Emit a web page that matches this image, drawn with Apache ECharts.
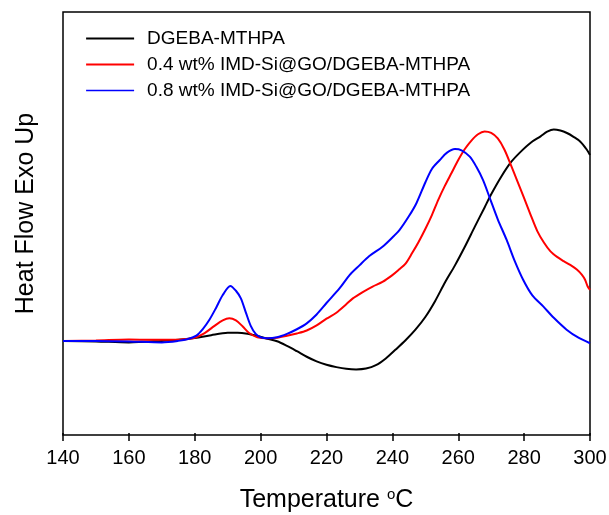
<!DOCTYPE html>
<html>
<head>
<meta charset="utf-8">
<script src="https://cdn.jsdelivr.net/npm/echarts@6/dist/echarts.min.js"></script>
<style>
  html, body { margin: 0; padding: 0; background: #fff; }
  #chart { width: 609px; height: 515px; }
</style>
</head>
<body>
<div id="chart"></div>
<script>
// DSC curves: heat flow (arbitrary units, exo up) versus temperature (°C)
const seriesNames = [
  'DGEBA-MTHPA',
  '0.4 wt% IMD-Si@GO/DGEBA-MTHPA',
  '0.8 wt% IMD-Si@GO/DGEBA-MTHPA'
];

const xTicks = [140, 160, 180, 200, 220, 240, 260, 280, 300];

// neat resin
const neatT = [140, 150, 160, 170, 175, 180, 185, 190, 193, 196, 199, 202, 205, 208, 211, 214, 217, 220, 223, 226, 229, 232, 235, 238, 241, 244, 247, 250, 253, 256, 259, 262, 265, 268, 270, 273, 276, 279, 282, 285, 287, 289, 291, 293, 295, 297, 299, 300];
const neatV = [21.75, 21.63, 21.39, 21.75, 22.0, 22.45, 23.1, 23.65, 23.7, 23.45, 22.9, 22.25, 21.65, 20.55, 19.3, 18.0, 16.9, 16.1, 15.55, 15.15, 15.0, 15.2, 16.0, 17.6, 19.7, 21.9, 24.4, 27.4, 31.2, 35.6, 39.6, 44.0, 48.7, 53.3, 56.4, 60.5, 64.0, 66.5, 68.6, 70.1, 71.2, 71.75, 71.5, 70.9, 70.0, 68.9, 67.0, 65.7];

// 0.4 wt% filled resin
const lowT = [140, 150, 160, 170, 176, 180, 183, 186, 188.5, 190.5, 192.5, 194.5, 196.5, 199, 202, 205, 208, 211, 214, 217, 220, 223, 226, 228, 231, 234, 237, 240, 242, 244, 246, 248, 250, 252, 254, 256, 258, 260, 262, 264, 266, 268, 270, 272, 274, 276, 278, 280, 282, 284, 286, 288, 290, 292, 294, 296, 297.5, 298.5, 299.3, 300];
const lowV = [21.75, 21.87, 22.1, 21.99, 22.1, 22.5, 23.6, 25.3, 26.6, 27.1, 26.6, 25.2, 23.6, 22.6, 22.35, 22.5, 22.95, 23.5, 24.2, 25.4, 27.0, 28.4, 30.4, 31.8, 33.3, 34.6, 35.7, 37.3, 38.6, 40.0, 42.5, 45.2, 48.2, 51.5, 55.2, 58.5, 61.5, 64.5, 67.1, 69.1, 70.6, 71.25, 70.9, 69.6, 67.0, 63.3, 59.4, 55.5, 51.5, 47.7, 45.0, 42.9, 41.6, 40.6, 39.7, 38.6, 37.4, 36.2, 34.6, 33.8];

// 0.8 wt% filled resin
const highT = [140, 150, 160, 170, 175, 178, 180.5, 182.5, 184.5, 186.5, 188.5, 190.8, 192.5, 194, 195.5, 197, 198.5, 200, 202, 205, 208, 211, 214, 217, 220, 224, 227, 230, 233, 237, 240, 242.2, 245, 247.3, 250, 252, 254.4, 256.5, 259, 261, 263.5, 265.5, 267.5, 269.5, 272, 274.7, 277, 279.7, 282.5, 285.8, 289, 292.9, 296.5, 300];
const highV = [21.75, 21.75, 21.63, 21.39, 21.75, 22.2, 23.0, 24.6, 26.8, 29.6, 32.6, 34.75, 33.6, 31.8, 28.5, 25.3, 23.4, 22.6, 22.35, 22.6, 23.4, 24.5, 25.9, 28.0, 30.7, 34.2, 37.3, 39.6, 41.8, 44.0, 46.2, 48.0, 51.2, 54.3, 59.2, 62.4, 64.5, 66.2, 67.1, 66.8, 65.3, 62.9, 59.8, 55.7, 50.5, 45.6, 40.9, 36.2, 32.5, 29.9, 27.2, 24.4, 22.5, 21.2];

const colors = ['#000000', '#ff0000', '#0000ff'];

function pairs(xs, ys) {
  return xs.map((x, i) => [x, ys[i]]);
}

const font = '"Liberation Sans", Arial, sans-serif';
const chart = echarts.init(document.getElementById('chart'), null, { renderer: 'canvas' });

function curve(i, xs, ys) {
  return {
    name: seriesNames[i], type: 'line', data: pairs(xs, ys),
    smooth: 0.3, symbol: 'none',
    lineStyle: { color: colors[i], width: 2 }, itemStyle: { color: colors[i] }
  };
}

chart.setOption({
  animation: false,
  backgroundColor: '#ffffff',
  grid: {
    left: 63, right: 19, top: 12, bottom: 80,
    outerBoundsMode: 'none',
    containLabel: false,
    show: true, borderColor: '#000', borderWidth: 1.5
  },
  legend: {
    orient: 'vertical',
    left: 85,
    top: 29,
    padding: 0,
    itemWidth: 48,
    itemHeight: 12,
    itemGap: 7,
    itemStyle: { opacity: 0 },
    textStyle: { fontFamily: font, fontSize: 19, color: '#000', padding: [0, 0, 0, 8] },
    data: [
      { name: seriesNames[0], lineStyle: { width: 2.2 } },
      { name: seriesNames[1], lineStyle: { width: 2 } },
      { name: seriesNames[2], lineStyle: { width: 1.3 } }
    ]
  },
  xAxis: {
    type: 'value',
    min: xTicks[0],
    max: xTicks[xTicks.length - 1],
    interval: 20,
    name: 'Temperature {sup|o}C',
    nameLocation: 'middle',
    nameGap: 52,
    nameTextStyle: {
      fontFamily: font, fontSize: 25, color: '#000',
      rich: { sup: { fontFamily: font, fontSize: 15, color: '#000', padding: [0, 0, 12, 0] } }
    },
    axisLine: { show: false },
    axisTick: { show: true, inside: false, length: 8, lineStyle: { color: '#000', width: 1.5 } },
    axisLabel: { fontFamily: font, fontSize: 20, color: '#000', margin: 13 },
    splitLine: { show: false }
  },
  yAxis: {
    type: 'value',
    min: -0.5,
    max: 99.5,
    name: 'Heat Flow Exo Up',
    nameLocation: 'middle',
    nameGap: 24,
    nameTextStyle: { fontFamily: font, fontSize: 25, color: '#000', padding: [0, 0, 0, 20] },
    axisLine: { show: false },
    axisTick: { show: false },
    axisLabel: { show: false },
    splitLine: { show: false }
  },
  series: [
    curve(0, neatT, neatV),
    curve(1, lowT, lowV),
    curve(2, highT, highV)
  ]
});
</script>
</body>
</html>
